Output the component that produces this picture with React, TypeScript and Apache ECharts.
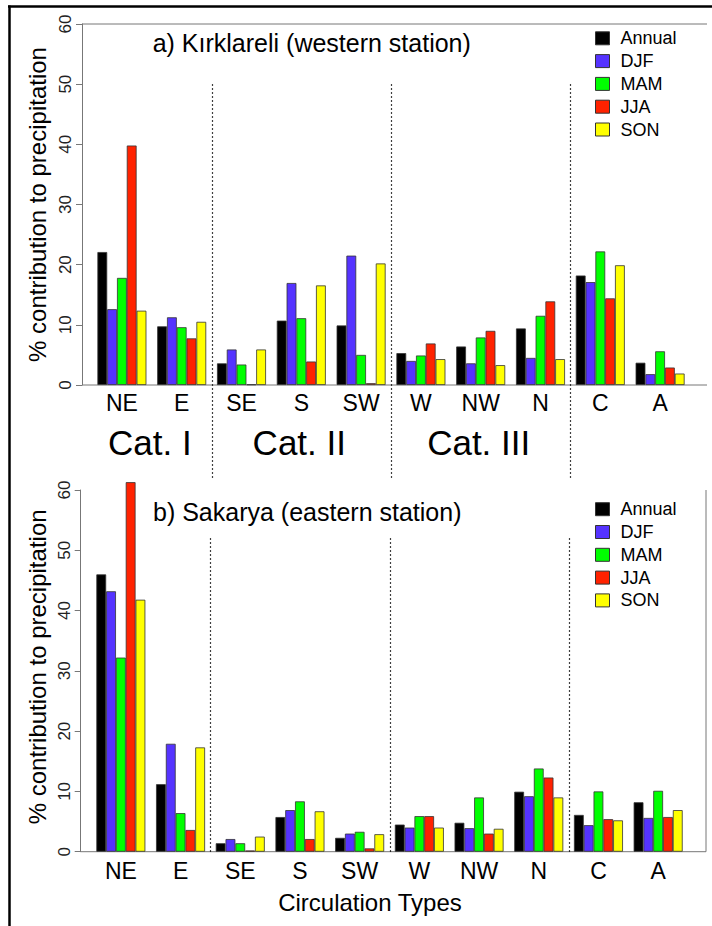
import React, { useEffect, useRef } from "react";
import * as echarts from "echarts";

const categories = ["NE", "E", "SE", "S", "SW", "W", "NW", "N", "C", "A"];
const seriesNames = ["Annual", "DJF", "MAM", "JJA", "SON"];
const seriesColors = ["#000000", "#5533FF", "#00FF00", "#FF2200", "#FFFF00"];

// a) Kırklareli (western station)
const kirAnnual = [22.1, 9.75, 3.6, 10.7, 9.9, 5.3, 6.4, 9.4, 18.2, 3.7];
const kirDJF = [12.6, 11.25, 5.9, 16.95, 21.5, 4.0, 3.6, 4.5, 17.1, 1.8];
const kirMAM = [17.8, 9.6, 3.4, 11.1, 5.0, 4.9, 7.9, 11.5, 22.2, 5.6];
const kirJJA = [39.8, 7.75, 0.1, 3.9, 0.3, 6.9, 9.0, 13.9, 14.4, 2.9];
const kirSON = [12.35, 10.5, 5.9, 16.55, 20.2, 4.3, 3.3, 4.3, 19.9, 1.9];

// b) Sakarya (eastern station)
const sakAnnual = [46.0, 11.2, 1.4, 5.75, 2.3, 4.5, 4.8, 9.95, 6.1, 8.2];
const sakDJF = [43.2, 17.9, 2.1, 6.9, 3.0, 4.0, 3.9, 9.2, 4.4, 5.6];
const sakMAM = [32.2, 6.4, 1.4, 8.35, 3.3, 5.9, 9.0, 13.8, 10.0, 10.1];
const sakJJA = [61.3, 3.6, 0.2, 2.1, 0.55, 5.9, 3.0, 12.3, 5.4, 5.75];
const sakSON = [41.8, 17.3, 2.5, 6.7, 2.9, 4.0, 3.8, 9.0, 5.2, 6.9];

const yMin = 0;
const yMax = 60;
const yInterval = 10;

const catGroups = [
  { label: "Cat. I", from: 0, to: 1 },
  { label: "Cat. II", from: 2, to: 4 },
  { label: "Cat. III", from: 5, to: 7 },
];
const dividerAfter = [1, 4, 7];

const FONT = "'Liberation Sans', Arial, Helvetica, sans-serif";
const AXIS_COLOR = "#777";

export default function App() {
  const ref = useRef<HTMLDivElement>(null);

  useEffect(() => {
    if (!ref.current) return;
    const chart = echarts.init(ref.current, null, { renderer: "svg" });

    const panelA = [kirAnnual, kirDJF, kirMAM, kirJJA, kirSON];
    const panelB = [sakAnnual, sakDJF, sakMAM, sakJJA, sakSON];

    const makeSeries = (data: number[][], idx: number) =>
      data.map((d, i) => ({
        type: "bar",
        name: seriesNames[i],
        xAxisIndex: idx,
        yAxisIndex: idx,
        data: d,
        barWidth: 9.8,
        barGap: "0%",
        clip: false,
        silent: true,
        itemStyle: {
          color: seriesColors[i],
          borderColor: "#333",
          borderWidth: 0.8,
        },
      }));

    const yAxisBase = (gridIndex: number, offset: number) => ({
      type: "value",
      gridIndex,
      min: yMin,
      max: yMax,
      interval: yInterval,
      offset,
      axisLine: { show: true, lineStyle: { color: AXIS_COLOR, width: 1 } },
      axisTick: { show: true, length: 6, lineStyle: { color: AXIS_COLOR } },
      axisLabel: {
        rotate: 90,
        fontSize: 17,
        color: "#222",
        fontFamily: FONT,
        margin: 8,
      },
      splitLine: { show: false },
    });

    const xAxisBase = (gridIndex: number, margin: number) => ({
      type: "category",
      gridIndex,
      data: categories,
      axisLine: { show: false },
      axisTick: { show: false },
      axisLabel: {
        fontSize: 23,
        color: "#000",
        fontFamily: FONT,
        margin,
        interval: 0,
      },
    });

    const legendBase = (top: number) => ({
      data: seriesNames,
      orient: "vertical",
      left: 595,
      top,
      padding: 0,
      icon: "rect",
      itemWidth: 14,
      itemHeight: 13,
      itemGap: 4.8,
      selectedMode: false,
      itemStyle: { borderColor: "#333", borderWidth: 1 },
      textStyle: {
        fontSize: 18,
        fontFamily: FONT,
        color: "#000",
        padding: [0, 0, 0, 6],
      },
    });

    chart.setOption({
      animation: false,
      backgroundColor: "#fff",
      grid: [
        { left: 92, width: 598, top: 24, height: 361 },
        { left: 91, width: 597, top: 490, height: 361.7 },
      ],
      xAxis: [xAxisBase(0, 6), xAxisBase(1, 8)],
      yAxis: [yAxisBase(0, 10), yAxisBase(1, 10.3)],
      legend: [legendBase(29.3), legendBase(500.2)],
      series: [...makeSeries(panelA, 0), ...makeSeries(panelB, 1)],
    });

    const px = (grid: number, cat: number, val: number) =>
      chart.convertToPixel({ gridIndex: grid } as any, [cat, val]) as number[];

    const graphics: any[] = [];
    const line = (x1: number, y1: number, x2: number, y2: number, stroke: string, lineWidth: number, lineDash?: number[]) => {
      graphics.push({
        type: "line",
        silent: true,
        shape: { x1, y1, x2, y2 },
        style: { stroke, lineWidth, lineDash },
      });
    };
    const text = (x: number, y: number, t: string, fontSize: number, align = "left", rotation = 0) => {
      graphics.push({
        type: "text",
        silent: true,
        x,
        y,
        rotation,
        style: {
          text: t,
          fontSize,
          fontFamily: FONT,
          fill: "#000",
          align,
          verticalAlign: "middle",
        },
      });
    };

    // outer frame
    line(8, 6.5, 712, 6.5, "#000", 2.5);
    line(9.5, 5.5, 9.5, 926, "#000", 2.5);

    // panel a box parts
    const a0 = px(0, 0, 0)[1];
    const a60 = px(0, 0, 60)[1];
    line(82, a60, 707, a60, AXIS_COLOR, 1);
    line(82, a0, 707, a0, AXIS_COLOR, 1);
    // panel b box parts
    const b0 = px(1, 0, 0)[1];
    const b60 = px(1, 0, 60)[1];
    line(80.7, b0, 706, b0, AXIS_COLOR, 1);
    line(706, b60, 706, b0, AXIS_COLOR, 1);

    // dotted dividers
    const dash = [1.5, 2.5];
    dividerAfter.forEach((i) => {
      const xa = Math.round((px(0, i, 0)[0] + px(0, i + 1, 0)[0]) / 2) + 0.5;
      line(xa, px(0, 0, 50)[1], xa, 480, "#000", 1.2, dash);
      const xb = Math.round((px(1, i, 0)[0] + px(1, i + 1, 0)[0]) / 2) + 0.5;
      line(xb, px(1, 0, 52)[1], xb, b0, "#000", 1.2, dash);
    });

    // category group labels
    catGroups.forEach((g) => {
      const cx = (px(0, g.from, 0)[0] + px(0, g.to, 0)[0]) / 2 - 2;
      text(cx, 442, g.label, 35, "center");
    });

    // titles
    text(152.7, 43, "a) Kırklareli (western station)", 25);
    text(153, 511.7, "b) Sakarya (eastern station)", 25);

    // y axis names
    text(37, (a0 + a60) / 2, "% contribution to precipitation", 24, "center", Math.PI / 2);
    text(37, (b0 + b60) / 2 - 4, "% contribution to precipitation", 24, "center", Math.PI / 2);

    // x axis name
    text(370, 902, "Circulation Types", 24, "center");

    chart.setOption({ graphic: graphics });

    return () => chart.dispose();
  }, []);

  return (
    <div
      ref={ref}
      style={{ position: "fixed", left: 0, top: 0, width: 712, height: 926, background: "#fff" }}
    />
  );
}
